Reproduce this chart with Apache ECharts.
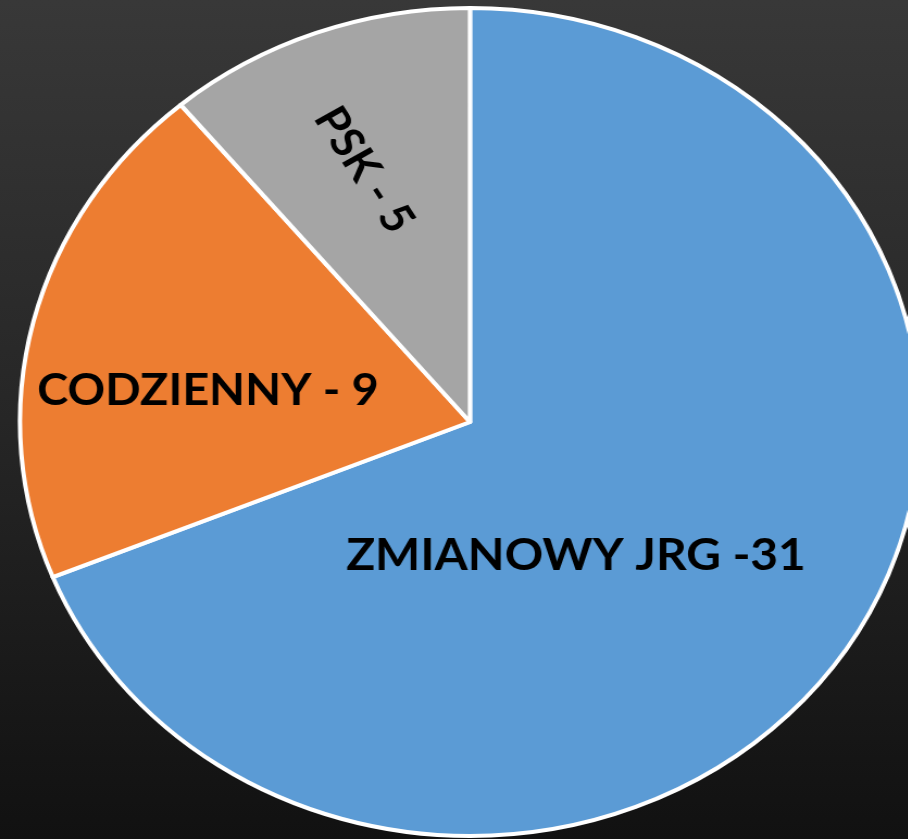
<!DOCTYPE html>
<html>
<head>
<meta charset="utf-8">
<script src="https://cdn.jsdelivr.net/npm/echarts@6/dist/echarts.min.js"></script>
<style>
  html, body { margin: 0; padding: 0; width: 908px; height: 839px; overflow: hidden;
    background: linear-gradient(to bottom, #383838 0%, #262626 50%, #111111 100%); }
  #wrap { width: 908px; height: 839px; overflow: hidden; position: relative; }
  #chart { position: absolute; left: 0; top: 0; height: 839px; transform-origin: 0 0; }
</style>
</head>
<body>
<div id="wrap"><div id="chart"></div></div>
<script>
// Staff structure by duty system
const categories = ['ZMIANOWY JRG', 'CODZIENNY', 'PSK'];
const values = [31, 9, 5];
const separators = [' -', ' - ', ' - '];
const colors = ['#5B9BD5', '#ED7D31', '#A5A5A5'];

// The pie is drawn slightly wider than tall
const stretchX = 1.087;
const W = 908, H = 839;
const el = document.getElementById('chart');
el.style.width = (W / stretchX) + 'px';
el.style.transform = 'scaleX(' + stretchX + ')';

// label placement per slice: screen x, y and rotation
const labelPos = [
  { x: 576, y: 556, rotate: 0, size: 44 },
  { x: 208, y: 391, rotate: 0, size: 43 },
  { x: 364, y: 170, rotate: -59, size: 42 }
];

const chart = echarts.init(el, null, { renderer: 'canvas' });
chart.setOption({
  animation: false,
  series: [{
    type: 'pie',
    center: [470 / stretchX, 422],
    radius: 414,
    startAngle: 90,
    clockwise: true,
    avoidLabelOverlap: false,
    itemStyle: { borderColor: '#ffffff', borderWidth: 4 },
    label: {
      show: true,
      position: 'inside',
      color: '#000000',
      fontFamily: 'Lato',
      fontWeight: 'bold',
      align: 'center',
      verticalAlign: 'middle',
      formatter: p => p.name + separators[p.dataIndex] + p.value
    },
    labelLine: { show: false },
    emphasis: { disabled: true },
    labelLayout: p => ({
      x: labelPos[p.dataIndex].x / stretchX,
      y: labelPos[p.dataIndex].y,
      rotate: labelPos[p.dataIndex].rotate,
      fontSize: labelPos[p.dataIndex].size
    }),
    data: categories.map((c, i) => ({
      name: c,
      value: values[i],
      itemStyle: { color: colors[i] },
      label: { fontSize: labelPos[i].size }
    }))
  }]
});
</script>
</body>
</html>
